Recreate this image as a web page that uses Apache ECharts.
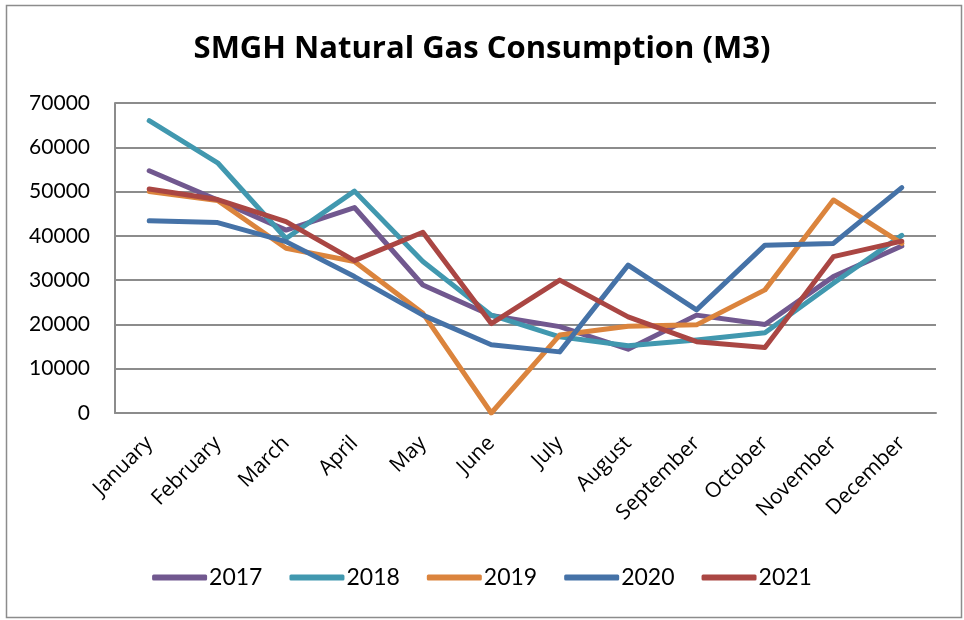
<!DOCTYPE html>
<html><head><meta charset="utf-8">
<script src="https://cdn.jsdelivr.net/npm/echarts@6/dist/echarts.min.js"></script>
<style>html,body{margin:0;padding:0;background:#fff}#c{width:964px;height:620px}</style>
</head><body><div id="c"></div>
<script>
const months = ['January','February','March','April','May','June','July','August','September','October','November','December'];
const years = ['2017','2018','2019','2020','2021'];
const s2017 = [54700, 48100, 41300, 46400, 28900, 22000, 19500, 14400, 22100, 20000, 30800, 37700];
const s2018 = [66000, 56500, 39400, 50100, 34200, 22100, 17200, 15200, 16500, 18100, 29300, 40100];
const s2019 = [50000, 48000, 37200, 34200, 22500, 0, 17600, 19600, 19900, 27800, 48100, 38300];
const s2020 = [43400, 43000, 38700, 30800, 22100, 15400, 13800, 33400, 23300, 37900, 38300, 50900];
const s2021 = [50600, 48200, 43200, 34400, 40800, 20200, 30000, 21700, 16100, 14800, 35300, 38800];
const yTicks = [0, 10000, 70000, 10000]; // min, interval, max
const colors = ['#71588F', '#4198AF', '#DB843D', '#4572A7', '#AA4643'];
const seriesData = [s2017, s2018, s2019, s2020, s2021];

const chart = echarts.init(document.getElementById('c'));
const FONT = 'Lato, "Liberation Sans", sans-serif';
const OS = '"Open Sans", sans-serif';
chart.setOption({
  animation: false,
  color: colors,
  title: {
    text: 'SMGH Natural Gas Consumption (M3)',
    left: 'center', top: 29,
    textStyle: {fontFamily: OS, fontSize: 31, fontWeight: 'bold', color: '#000'}
  },
  graphic: [{
    type: 'rect', left: 4, top: 3, silent: true,
    shape: {width: 955, height: 612},
    style: {fill: 'none', stroke: '#8c8c8c', lineWidth: 1.5}
  }],
  legend: {
    bottom: 26, left: 'center',
    itemWidth: 55, itemHeight: 6, itemGap: 27,
    icon: 'roundRect',
    textStyle: {fontFamily: FONT, fontSize: 23, color: '#000', padding: [0,0,0,-3]},
    data: years
  },
  grid: {left: 115, right: 28, top: 103, bottom: 207},
  xAxis: {
    type: 'category', data: months, boundaryGap: true,
    axisLine: {lineStyle: {color: '#8c8c8c', width: 2}},
    axisTick: {show: false},
    axisLabel: {rotate: 45, fontFamily: OS, fontSize: 21, color: '#000', margin: 27, interval: 0}
  },
  yAxis: {
    type: 'value', min: yTicks[0], interval: yTicks[1], max: yTicks[2],
    axisLine: {show: true, lineStyle: {color: '#8c8c8c', width: 2}},
    axisTick: {show: false},
    splitLine: {lineStyle: {color: '#8c8c8c', width: 2}},
    axisLabel: {fontFamily: FONT, fontSize: 21, color: '#000', margin: 25, formatter: v => String(v)}
  },
  series: years.map((y, i) => ({
    name: y, type: 'line', data: seriesData[i],
    symbol: 'none', lineStyle: {width: 5, cap: 'round', join: 'round'},
    z: 2 + i
  }))
});
</script></body></html>
